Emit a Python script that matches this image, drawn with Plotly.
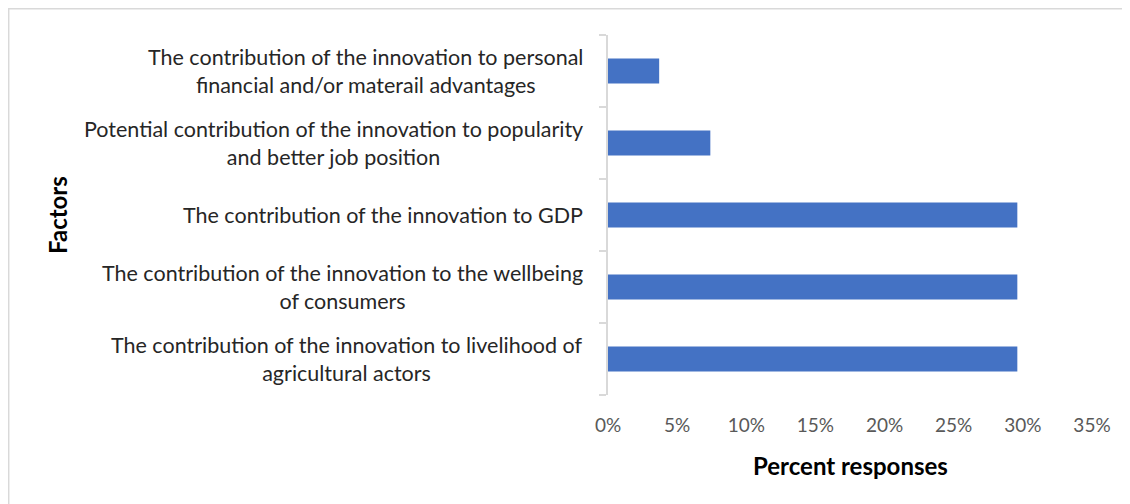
import plotly.graph_objects as go

categories = [
    "The contribution of the innovation to livelihood of<br>agricultural actors",
    "The contribution of the innovation to the wellbeing<br>of consumers",
    "The contribution of the innovation to GDP",
    "Potential contribution of the innovation to popularity<br>and better job position",
    "The contribution of the innovation to personal<br>financial and/or materail advantages",
]
values = [29.6, 29.6, 29.6, 7.4, 3.7]
x_ticks = [0, 5, 10, 15, 20, 25, 30, 35]
x_tick_labels = ["0%", "5%", "10%", "15%", "20%", "25%", "30%", "35%"]

# page offset (body margin) of 8px is accounted for in the figure geometry
OFF = 8
W, H = 1130 - OFF, 504 - OFF
L, R, T, B = 608 - OFF, 38, 35 - OFF, 109
pw = W - L - R
ph = H - T - B

def px_x(p):
    return (p - OFF - L) / pw

def px_y(p):
    return (H - B - (p - OFF)) / ph

FONT = "Lato"

fig = go.Figure(go.Bar(
    y=list(range(len(categories))),
    x=values,
    orientation="h",
    marker=dict(color="#4472C4", line=dict(width=0)),
    width=0.35,
))

annotations = []
for i, c in enumerate(categories):
    annotations.append(dict(
        x=px_x(585), xref="paper", xanchor="right",
        y=i, yref="y", yanchor="middle",
        text=c, showarrow=False, align="center",
        font=dict(family=FONT, size=21.5, color="#262626"),
    ))
annotations.append(dict(
    x=px_x(57), xref="paper", xanchor="center",
    y=px_y(215), yref="paper", yanchor="middle",
    text="<b>Factors</b>", textangle=-90, showarrow=False,
    font=dict(family=FONT, size=24, color="#000000"),
))
annotations.append(dict(
    x=px_x(850), xref="paper", xanchor="center",
    y=px_y(465), yref="paper", yanchor="middle",
    text="<b>Percent responses</b>", showarrow=False,
    font=dict(family=FONT, size=24, color="#000000"),
))

fig.update_layout(
    width=W, height=H,
    margin=dict(l=L, r=R, t=T, b=B),
    paper_bgcolor="white", plot_bgcolor="white",
    showlegend=False,
    annotations=annotations,
    shapes=[dict(type="rect", xref="paper", yref="paper",
                 x0=px_x(8.7), x1=px_x(1150), y0=px_y(8.7), y1=px_y(530),
                 line=dict(color="#d9d9d9", width=1.5), layer="below")],
    xaxis=dict(range=[0, 35], tickvals=x_ticks, ticktext=x_tick_labels,
               showgrid=False, zeroline=False, showline=False,
               ticks="", tickfont=dict(family=FONT, size=19, color="#595959"),
               ticklabelstandoff=17, fixedrange=True),
    yaxis=dict(range=[-0.5, 4.5], tickvals=[-0.5, 0.5, 1.5, 2.5, 3.5, 4.5],
               showticklabels=False, ticks="outside", ticklen=7,
               tickcolor="#d9d9d9", tickwidth=1.5,
               showline=True, linecolor="#d9d9d9", linewidth=2,
               showgrid=False, zeroline=False, fixedrange=True),
)

fig.write_html("out.html")
